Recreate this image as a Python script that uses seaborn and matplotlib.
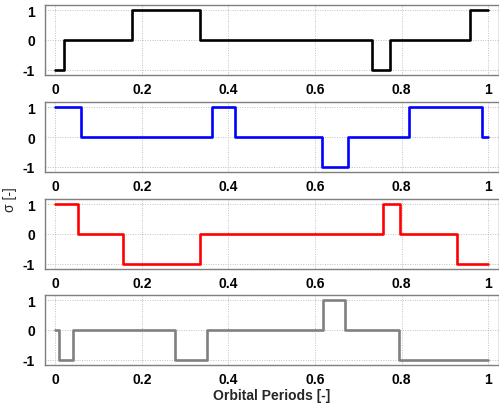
import matplotlib
matplotlib.use("Agg")
import matplotlib.pyplot as plt
import seaborn as sns
import pandas as pd

sns.set_theme(style="white")
plt.rcParams['font.family'] = ['Liberation Sans', 'DejaVu Sans']

# switching times (orbital periods) and sigma levels, one per segment
t_black = [0.0, 0.019, 0.177, 0.335, 0.732, 0.773, 0.958, 1.0]
s_black = [-1, 0, 1, 0, -1, 0, 1, 1]

t_blue = [0.0, 0.060, 0.362, 0.415, 0.615, 0.676, 0.816, 0.985, 1.0]
s_blue = [1, 0, 1, 0, -1, 0, 1, 0, 0]

t_red = [0.0, 0.053, 0.156, 0.334, 0.757, 0.797, 0.928, 1.0]
s_red = [1, 0, -1, 0, 1, 0, -1, -1]

t_gray = [0.0, 0.009, 0.041, 0.276, 0.351, 0.619, 0.670, 0.794, 1.0]
s_gray = [0, -1, 0, -1, 0, 1, 0, -1, -1]

xticks = [0, 0.2, 0.4, 0.6, 0.8, 1]
xticklabels = ["0", "0.2", "0.4", "0.6", "0.8", "1"]
yticks = [-1, 0, 1]
yticklabels = ["-1", "0", "1"]

series = [(t_black, s_black, "black"), (t_blue, s_blue, "#0000ff"),
          (t_red, s_red, "#ff0000"), (t_gray, s_gray, "#808080")]

W, H = 499, 406
fig = plt.figure(figsize=(W / 100, H / 100), dpi=100)
tops = [6, 103, 200, 296]
left_px, right_px, h_px = 44.5, 499, 70

for (t, s, c), top in zip(series, tops):
    ax = fig.add_axes([left_px / W, 1 - (top + h_px) / H, (right_px - left_px) / W, h_px / H])
    df = pd.DataFrame({"t": t, "s": s})
    sns.lineplot(data=df, x="t", y="s", ax=ax, color=c, linewidth=1.9,
                 drawstyle="steps-post", estimator=None)
    ax.set_xlim(-0.025, 1.025)
    ax.set_ylim(-1.167, 1.167)
    ax.set_xticks(xticks)
    ax.set_xticklabels(xticklabels)
    ax.set_yticks(yticks)
    ax.set_yticklabels(yticklabels)
    ax.grid(True, linestyle=(0, (1, 1.5)), color="#c0c0c0", linewidth=0.7)
    ax.set_xlabel("")
    ax.set_ylabel("")
    for sp in ax.spines.values():
        sp.set_color("#7f7f7f")
        sp.set_linewidth(1.0)
    ax.tick_params(axis="both", length=0, labelsize=10, colors="black")
    ax.tick_params(axis="x", pad=5)
    ax.tick_params(axis="y", pad=7)
    for lab in ax.get_xticklabels() + ax.get_yticklabels():
        lab.set_fontweight("bold")

fig.text((left_px + right_px) / 2 / W, 1 - 396 / H, "Orbital Periods [-]",
         ha="center", va="center", fontsize=10, fontweight="bold")
fig.text(10 / W, 1 - 200 / H, "σ [-]", ha="center", va="center",
         rotation=90, fontsize=10)

fig.savefig("out.png", dpi=100)
